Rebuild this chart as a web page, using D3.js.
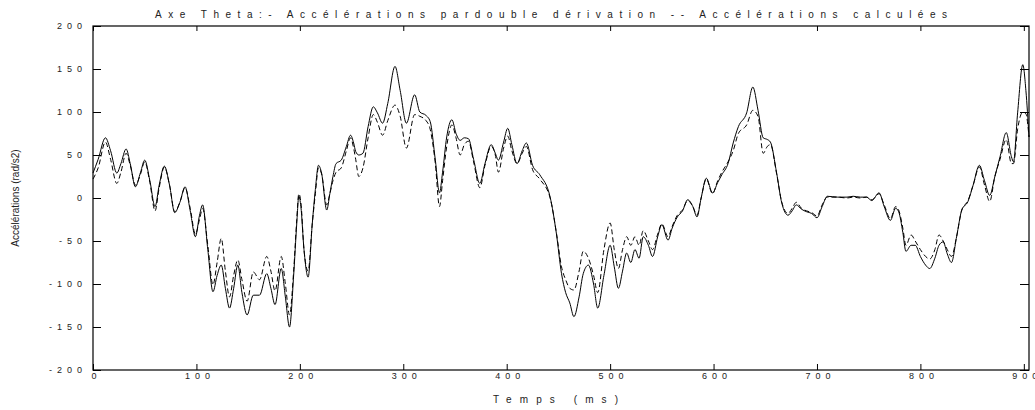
<!doctype html>
<html lang="fr">
<head>
  <meta charset="UTF-8" />
  <script src="https://cdn.jsdelivr.net/npm/d3@7"></script>
  <style>
    body { margin: 0; background: white; }
    text { font-family: "Liberation Sans", Arial, sans-serif; fill: #222; }
    .tick line { stroke: black; }
    .tick text { font-size: 9px; letter-spacing: 5px; }
    .serie { fill: none; stroke: black; stroke-width: 1; }
    .calc { stroke-dasharray: 5, 3; }
  </style>
  <title>Axe Theta</title>
</head>
<body>
  <script>
    // temps (ms)
    var times = [0, 5, 12, 17, 23, 27, 32, 36, 41, 46, 50, 55, 60, 64, 69, 74, 79, 84, 89, 94,
      99, 103, 106, 111, 116, 120, 124, 128, 132, 136, 140, 144, 149, 155, 161, 168, 172, 176, 182, 186,
      190, 194, 197, 199, 201, 204, 208, 212, 215, 218, 221, 226, 229, 232, 235, 240, 245, 249, 252, 254,
      257, 261, 266, 271, 275, 280, 285, 292, 297, 303, 311, 316, 322, 326, 331, 335, 338, 342, 347, 351,
      355, 359, 363, 368, 374, 379, 385, 389, 392, 397, 401, 405, 410, 415, 419, 425, 432, 442, 448, 453,
      457, 461, 465, 470, 474, 479, 484, 488, 494, 500, 504, 508, 512, 516, 520, 524, 528, 532, 537, 541,
      546, 550, 556, 560, 565, 570, 575, 580, 584, 588, 593, 599, 604, 608, 614, 619, 624, 632, 638, 643,
      648, 652, 655, 661, 666, 672, 676, 680, 685, 690, 695, 700, 705, 710, 720, 729, 735, 742, 748, 753,
      760, 765, 771, 776, 779, 783, 786, 791, 795, 800, 805, 809, 814, 818, 822, 826, 830, 835, 840, 846,
      851, 857, 862, 867, 872, 877, 883, 888, 890, 894, 899, 902, 905];

    // accelerations par double derivation (trait plein)
    var derivee = [29, 45, 70, 55, 29, 40, 57, 40, 13, 30, 44, 20, -10, 15, 37, 15, -17, -5, 13, -15,
      -45, -20, -8, -60, -109, -90, -78, -105, -128, -105, -78, -110, -136, -113, -113, -88, -105, -124, -82, -115,
      -150, -90, -30, 2, -10, -60, -92, -30, 10, 38, 29, -14, 5, 25, 40, 44, 60, 73, 64, 54,
      50, 52, 83, 106, 99, 87, 110, 153, 125, 87, 120, 100, 96, 89, 44, 6, 30, 71, 91, 75,
      67, 70, 69, 45, 17, 40, 62, 52, 44, 65, 81, 62, 40, 55, 64, 38, 27, 1, -41, -88,
      -110, -122, -138, -115, -88, -78, -100, -128, -90, -55, -80, -105, -85, -64, -75, -60, -70, -45, -55, -68,
      -45, -31, -49, -35, -22, -15, -2, -10, -22, 0, 23, 6, 18, 27, 40, 64, 83, 99, 129, 102,
      70, 68, 65, 29, -6, -20, -15, -8, -13, -16, -18, -23, -10, 2, 1, 1, 2, 1, 1, -3,
      6, -10, -26, -12, -16, -40, -62, -55, -55, -68, -78, -82, -70, -55, -51, -65, -75, -45, -14, -4,
      15, 38, 20, 3, 25, 48, 76, 48, 42, 99, 155, 125, 71];

    // accelerations calculees (pointilles)
    var calculee = [22, 35, 65, 45, 17, 30, 52, 38, 15, 28, 42, 18, -15, 12, 36, 15, -16, -5, 12, -12,
      -42, -25, -12, -55, -101, -75, -47, -85, -115, -90, -72, -95, -120, -86, -95, -68, -85, -108, -68, -100,
      -136, -85, -25, 5, -5, -60, -85, -30, 5, 35, 28, -8, 5, 20, 30, 35, 55, 70, 58, 45,
      25, 35, 70, 97, 88, 73, 90, 108, 95, 58, 97, 95, 90, 80, 40, -10, 20, 60, 85, 70,
      50, 62, 66, 42, 12, 38, 60, 50, 30, 58, 72, 55, 40, 52, 60, 33, 22, 0, -40, -80,
      -95, -105, -107, -85, -62, -70, -90, -110, -60, -29, -60, -82, -60, -45, -55, -45, -55, -38, -50, -60,
      -42, -30, -45, -33, -20, -14, -3, -10, -20, 0, 22, 5, 20, 30, 42, 55, 75, 85, 102, 95,
      52, 60, 62, 28, -5, -18, -12, -5, -12, -15, -17, -21, -8, 1, 1, 0, 1, 0, 1, -2,
      5, -8, -24, -10, -14, -35, -55, -43, -50, -60, -68, -71, -60, -43, -50, -60, -68, -45, -14, -3,
      15, 36, 15, -4, 25, 45, 68, 40, 40, 80, 100, 98, 71];

    var yTicks = [-200, -150, -100, -50, 0, 50, 100, 150, 200];
    var xTicks = [0, 100, 200, 300, 400, 500, 600, 700, 800, 900];

    var W = 1035, H = 410;
    var m = { left: 93, right: 1029, top: 26, bottom: 370 };

    var svg = d3.select("body").append("svg")
      .attr("width", W).attr("height", H);

    var x = d3.scaleLinear().domain([0, 905]).range([m.left, m.right]);
    var y = d3.scaleLinear().domain([-200, 200]).range([m.bottom, m.top]);

    // axes, ticks vers l'interieur
    svg.append("g").attr("transform", "translate(" + m.left + ",0)")
      .call(d3.axisLeft(y).tickValues(yTicks).tickSize(-8).tickPadding(6)
        .tickFormat(function (d) { return d < 0 ? "-" + Math.abs(d) : d; }))
      .call(function (g) { g.select(".domain").remove(); });

    svg.append("g").attr("transform", "translate(" + m.right + ",0)")
      .call(d3.axisRight(y).tickValues(yTicks).tickSize(-9).tickFormat(""))
      .call(function (g) { g.select(".domain").remove(); });

    svg.append("g").attr("transform", "translate(0," + m.bottom + ")")
      .call(d3.axisBottom(x).tickValues(xTicks).tickSize(-6).tickPadding(3))
      .call(function (g) { g.select(".domain").remove(); })
      .selectAll("text").attr("dx", "3px");

    svg.append("g").attr("transform", "translate(0," + m.top + ")")
      .call(d3.axisTop(x).tickValues(xTicks).tickSize(-5).tickFormat(""))
      .call(function (g) { g.select(".domain").remove(); });

    svg.selectAll(".tick text").attr("font-family", null).attr("font-size", null);

    svg.append("rect")
      .attr("x", m.left).attr("y", m.top)
      .attr("width", m.right - m.left).attr("height", m.bottom - m.top)
      .attr("fill", "none").attr("stroke", "black").attr("stroke-width", 1.2);

    var pts = times.map(function (t, i) { return { t: t, a: derivee[i], b: calculee[i] }; });

    var lineA = d3.line().x(function (d) { return x(d.t); }).y(function (d) { return y(d.a); })
      .curve(d3.curveMonotoneX);
    var lineB = d3.line().x(function (d) { return x(d.t); }).y(function (d) { return y(d.b); })
      .curve(d3.curveMonotoneX);

    svg.append("path").datum(pts).attr("class", "serie calc").attr("d", lineB);
    svg.append("path").datum(pts).attr("class", "serie").attr("d", lineA);

    // titres
    svg.append("text")
      .attr("x", 155).attr("y", 18)
      .attr("font-size", "10px")
      .attr("textLength", 792).attr("lengthAdjust", "spacing")
      .text("Axe Theta:- Accélérations pardouble dérivation -- Accélérations calculées");

    svg.append("text")
      .attr("x", 493).attr("y", 403)
      .attr("font-size", "10px")
      .attr("textLength", 125).attr("lengthAdjust", "spacing")
      .text("Temps (ms)");

    svg.append("text")
      .attr("transform", "translate(19," + ((m.top + m.bottom) / 2) + ") rotate(-90)")
      .attr("text-anchor", "middle")
      .attr("font-size", "10px")
      .text("Accélérations (rad/s2)");
  </script>
</body>
</html>
